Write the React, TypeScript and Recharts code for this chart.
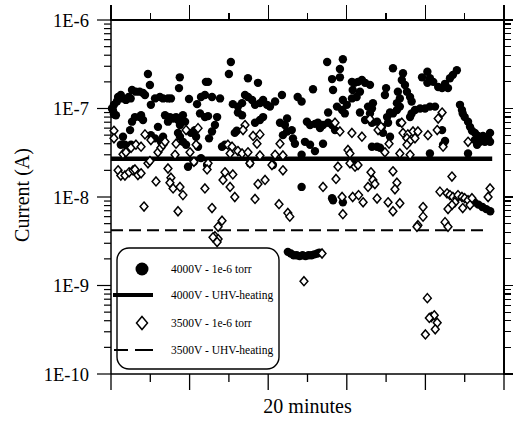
import { ScatterChart, Scatter, XAxis, YAxis, ReferenceLine } from "recharts";

const SERIF = '"Liberation Serif", "Times New Roman", serif';

// x: minutes, y: current (A)
const X_MAJOR = [0, 4, 8, 12, 16, 20];
const X_MINOR = [2, 6, 10, 14, 18];
const Y_DECADES = [1e-10, 1e-9, 1e-8, 1e-7, 1e-6];
const Y_MINOR_STEPS = [2, 3, 4, 5, 6, 7, 8, 9];

const UHV_4000 = 2.7e-8;
const UHV_4000_END = 19.4;
const UHV_3500 = 4.2e-9;
const UHV_3500_END = 18.95;

// 4000V - 1e-6 torr (filled circles)
const HV4000: [number, number][] = [
  [0.05, 1.0e-7], [0.3, 1.2e-7], [0.1, 9.5e-8], [0.6, 1.3e-7], [0.9, 1.35e-7],
  [0.15, 1.1e-7], [0.36, 1.35e-7], [0.5, 1.42e-7], [0.76, 1.25e-7], [1.0, 1.3e-7], [1.07, 1.62e-7],
  [1.27, 1.55e-7], [1.46, 1.55e-7], [1.63, 1.5e-7], [1.73, 1.42e-7], [1.88, 2.45e-7], [1.98, 1.84e-7],
  [2.03, 1.1e-7], [2.24, 1.3e-7], [2.49, 1.35e-7], [2.65, 1.3e-7], [2.9, 1.3e-7], [3.05, 1.3e-7],
  [3.5, 2.25e-7], [3.46, 1.7e-7], [3.97, 1.28e-7], [4.38, 1.12e-7], [4.58, 1.35e-7], [4.83, 2.0e-7],
  [0.15, 8.6e-8], [0.25, 8.4e-8], [1.07, 7.1e-8], [1.22, 8e-8], [1.46, 8e-8], [1.53, 8.4e-8],
  [1.63, 7.4e-8], [0.97, 5.7e-8], [0.61, 4.8e-8], [0.5, 3.9e-8], [0.71, 3.9e-8], [0.87, 3.7e-8],
  [1.02, 3.9e-8], [2.03, 5.0e-8], [2.24, 4.6e-8], [2.39, 6.2e-8], [2.54, 4.2e-8], [2.65, 4.8e-8],
  [2.75, 8.4e-8], [2.9, 7.1e-8], [3.0, 8e-8], [3.16, 7.7e-8], [3.31, 8e-8], [3.41, 7.4e-8],
  [3.51, 6.5e-8], [3.66, 8.4e-8], [3.77, 7.1e-8], [3.41, 5.3e-8], [3.51, 4.8e-8], [3.66, 4.2e-8],
  [3.82, 3.9e-8], [4.07, 5.3e-8], [4.27, 5.7e-8], [4.33, 4.8e-8], [4.53, 8.8e-8], [4.78, 8e-8],
  [4.43, 3.7e-8], [3.92, 2.2e-8], [4.22, 2.5e-8], [4.58, 2.75e-8],
  [6.1, 3.35e-7], [6.0, 2.45e-7], [4.94, 2.0e-7], [6.97, 2.2e-7], [7.48, 1.95e-7], [5.55, 1.3e-7],
  [5.14, 1.35e-7], [4.78, 1.42e-7], [6.2, 1.12e-7], [6.46, 1.05e-7], [6.67, 1.15e-7], [6.82, 1.42e-7],
  [6.97, 1.35e-7], [7.18, 1.25e-7], [7.33, 1.1e-7], [7.58, 1.15e-7], [7.74, 1.25e-7], [7.94, 1.1e-7],
  [8.09, 1.05e-7], [8.35, 1.2e-7], [8.7, 1.42e-7], [9.5, 1.35e-7], [9.7, 1.2e-7], [5.4, 8e-8],
  [4.94, 8.2e-8], [6.46, 9e-8], [6.67, 8.4e-8], [7.33, 6.9e-8], [7.58, 7.4e-8], [7.74, 8e-8],
  [8.96, 7.7e-8], [5.29, 6.5e-8], [5.14, 5.5e-8], [4.99, 4.6e-8], [6.4, 5.6e-8], [6.3, 5.3e-8],
  [8.6, 6.9e-8], [8.85, 6.5e-8], [8.96, 5.5e-8], [8.75, 5.0e-8], [9.2, 5.7e-8], [9.26, 4.6e-8],
  [9.36, 4.0e-8], [5.65, 3.7e-8], [5.8, 3.9e-8], [9.7, 3.0e-8], [7.07, 2.4e-8], [4.89, 2.3e-8],
  [8.24, 2.3e-8], [9.7, 1.3e-8],
  [11.8, 3.6e-7], [11.0, 3.35e-7], [11.65, 2.8e-7], [11.65, 2.25e-7], [11.25, 2.15e-7], [14.35, 2.85e-7],
  [10.28, 1.65e-7], [11.3, 1.62e-7], [12.26, 2.0e-7], [12.4, 1.95e-7], [12.57, 2.0e-7], [12.77, 2.1e-7],
  [12.93, 1.95e-7], [13.18, 1.85e-7], [12.3, 1.62e-7], [12.67, 1.55e-7], [12.26, 1.3e-7], [12.5, 1.35e-7],
  [14.0, 1.7e-7], [13.94, 1.42e-7], [14.6, 1.55e-7], [11.8, 1.25e-7], [12.0, 1.1e-7], [11.5, 1.05e-7],
  [11.76, 9.6e-8], [11.9, 8.8e-8], [11.05, 9e-8], [12.67, 9e-8], [13.08, 1.05e-7], [13.33, 1.15e-7],
  [13.18, 8.8e-8], [13.28, 1.0e-7], [14.2, 9e-8], [14.05, 8e-8], [14.55, 1.15e-7], [14.35, 8.8e-8],
  [9.97, 7.1e-8], [10.13, 6.5e-8], [10.38, 6.7e-8], [10.53, 6.9e-8], [10.79, 6.5e-8], [11.05, 6.9e-8],
  [11.25, 6.5e-8], [11.4, 5.7e-8], [10.64, 6e-8], [12.93, 7.4e-8], [13.28, 6.9e-8], [13.54, 7.1e-8],
  [13.79, 6.2e-8], [13.84, 5.3e-8], [14.2, 4.8e-8], [14.1, 6.9e-8], [9.87, 4.2e-8], [10.13, 3.9e-8],
  [10.79, 4.0e-8], [10.38, 3.3e-8], [13.28, 3.7e-8], [13.54, 3.7e-8], [13.69, 3.6e-8], [12.3, 2.4e-8],
  [11.25, 9.7e-9], [11.3, 9.2e-9], [11.8, 8.7e-9],
  [17.6, 2.7e-7], [17.4, 2.4e-7], [17.25, 2.2e-7], [17.15, 1.7e-7], [17.0, 1.9e-7], [16.85, 1.7e-7],
  [16.65, 1.75e-7], [16.1, 2.6e-7], [15.83, 2.25e-7], [16.23, 2.2e-7], [16.4, 2.0e-7], [16.1, 1.95e-7],
  [14.86, 2.5e-7], [14.8, 2.1e-7], [14.96, 1.84e-7], [15.06, 1.55e-7], [15.22, 1.35e-7], [15.3, 1.2e-7],
  [14.7, 1.3e-7], [14.7, 1.05e-7], [14.55, 9.6e-8], [17.76, 1.1e-7], [17.86, 9.6e-8], [17.9, 8.8e-8],
  [18.0, 8e-8], [18.17, 7.1e-8], [18.27, 6.2e-8], [18.37, 5.6e-8], [18.52, 5.3e-8], [18.68, 4.9e-8],
  [18.93, 4.9e-8], [19.19, 4.6e-8], [19.29, 4.2e-8], [19.03, 4.2e-8], [18.78, 4.2e-8], [18.52, 4.4e-8],
  [18.63, 3.9e-8], [19.29, 5.3e-8], [15.47, 9.6e-8], [15.73, 1.0e-7], [15.98, 1.0e-7], [16.23, 1.05e-7],
  [16.49, 1.05e-7], [15.3, 8.8e-8], [15.22, 8e-8], [14.7, 6.9e-8], [16.85, 5.7e-8], [17.0, 4.3e-8],
  [16.9, 3.9e-8], [16.23, 3.1e-8], [18.17, 3.1e-8],
  [18.5, 8.7e-9], [18.7, 8.2e-9], [18.9, 7.7e-9], [19.1, 7.3e-9], [19.3, 6.9e-9],
  [9.0, 2.4e-9], [9.15, 2.3e-9], [9.3, 2.2e-9], [9.45, 2.2e-9], [9.6, 2.15e-9], [9.75, 2.2e-9],
  [9.9, 2.15e-9], [10.05, 2.2e-9], [10.2, 2.2e-9], [10.35, 2.25e-9], [10.5, 2.3e-9], [10.6, 2.35e-9],
];

// 3500V - 1e-6 torr (open diamonds)
const HV3500: [number, number][] = [
  [0.15, 5.6e-8], [0.15, 4.6e-8], [0.61, 3.05e-8], [0.76, 3.2e-8], [1.02, 3.6e-8], [1.27, 3.9e-8],
  [1.53, 3.7e-8], [1.73, 5.1e-8], [1.88, 2.4e-8], [2.03, 4.4e-8], [2.39, 3.2e-8], [2.54, 3.6e-8],
  [2.65, 3.9e-8], [2.75, 4.2e-8], [3.31, 4.0e-8], [3.26, 3.0e-8], [3.82, 5.7e-8], [4.02, 3.2e-8],
  [4.33, 3.9e-8], [4.43, 6.0e-8], [4.22, 2.5e-8],
  [0.36, 2.0e-8], [0.5, 1.75e-8], [0.71, 1.75e-8], [0.92, 1.9e-8], [1.12, 2.0e-8], [1.22, 2.05e-8],
  [1.37, 1.77e-8], [1.53, 1.85e-8], [1.98, 2.55e-8], [2.29, 1.5e-8], [2.9, 2.1e-8], [3.05, 1.65e-8],
  [3.0, 1.45e-8], [3.16, 1.25e-8], [3.51, 1.3e-8], [3.66, 1.05e-8], [1.68, 7.8e-9], [3.41, 6.9e-9],
  [4.78, 1.25e-8],
  [6.82, 6.5e-8], [6.72, 5.7e-8], [7.23, 4.9e-8], [7.58, 5.1e-8], [7.43, 4.0e-8], [8.6, 4.0e-8],
  [5.95, 3.9e-8], [6.16, 3.7e-8], [6.06, 3.1e-8], [6.46, 3.3e-8], [6.67, 3.1e-8], [6.97, 3.2e-8],
  [7.58, 2.95e-8], [8.35, 3.0e-8], [8.75, 2.95e-8], [4.94, 2.4e-8], [7.07, 2.4e-8], [8.19, 2.3e-8],
  [8.75, 2.0e-8], [4.89, 2.05e-8], [5.8, 1.9e-8], [6.2, 1.8e-8], [5.7, 1.56e-8], [6.06, 1.3e-8],
  [6.3, 1.0e-8], [7.84, 1.56e-8], [7.48, 1.4e-8], [7.33, 9.5e-9], [8.55, 8.3e-9], [5.14, 7.5e-9],
  [9.0, 6.6e-9], [9.1, 6.0e-9], [5.65, 5.4e-9], [5.45, 4.6e-9], [5.29, 3.6e-9], [5.45, 3.35e-9],
  [5.19, 3.5e-9], [5.4, 3.1e-9],
  [11.4, 6.9e-8], [11.65, 5.5e-8], [12.26, 5.3e-8], [12.77, 4.8e-8], [13.18, 7.6e-8], [13.59, 5.7e-8],
  [13.74, 6.2e-8], [14.15, 4.0e-8], [12.06, 3.4e-8], [12.16, 3.1e-8], [13.94, 3.2e-8], [11.55, 2.2e-8],
  [12.16, 2.4e-8], [12.42, 2.2e-8], [12.57, 2.3e-8], [13.23, 1.9e-8], [14.35, 1.95e-8], [11.45, 1.6e-8],
  [10.79, 1.3e-8], [13.33, 1.56e-8], [13.08, 1.3e-8], [13.43, 1.4e-8], [14.55, 1.45e-8], [14.45, 1.22e-8],
  [12.3, 1.0e-8], [12.6, 1.05e-8], [11.76, 1.0e-8], [12.83, 8.7e-9], [13.54, 9.6e-9], [14.1, 8.7e-9],
  [14.35, 6.9e-9], [11.8, 6.4e-9],
  [16.85, 9e-8], [16.65, 7.7e-8], [16.6, 5.7e-8], [16.9, 3.7e-8], [14.8, 6.9e-8], [14.86, 5.3e-8],
  [15.11, 5.1e-8], [15.37, 5.5e-8], [15.62, 5.5e-8], [15.06, 4.6e-8], [15.22, 4.3e-8], [15.47, 4.6e-8],
  [16.13, 5.0e-8], [15.06, 3.9e-8], [14.7, 3.1e-8], [15.22, 3.0e-8], [18.17, 4.2e-8], [14.7, 8.5e-9],
  [17.35, 1.7e-8], [16.74, 1.15e-8], [17.1, 1.1e-8], [17.25, 1.05e-8], [17.4, 1.0e-8], [17.6, 9.7e-9],
  [17.66, 1.05e-8], [17.86, 1.0e-8], [18.0, 9.7e-9], [18.17, 9.2e-9], [18.37, 9.7e-9], [17.5, 8.7e-9],
  [17.35, 8.1e-9], [17.15, 7.3e-9], [17.9, 7.5e-9], [18.27, 8.1e-9], [19.29, 1.25e-8], [19.19, 1.0e-8],
  [15.88, 7.7e-9], [15.88, 6.0e-9], [15.62, 4.8e-9], [15.57, 4.6e-9], [17.0, 5.2e-9], [17.15, 4.6e-9],
  [10.74, 2.3e-9], [9.82, 1.12e-9], [16.1, 7.2e-10], [16.3, 4.4e-10], [16.45, 4.6e-10], [16.2, 4.3e-10],
  [16.6, 3.8e-10], [16.5, 3.2e-10], [16.0, 2.8e-10],
];

const LEGEND_LABELS = [
  "4000V - 1e-6 torr",
  "4000V - UHV-heating",
  "3500V - 1e-6 torr",
  "3500V - UHV-heating",
];

// plot box in page pixels (chart size minus axis widths/heights)
const BOX = { left: 111, right: 504, top: 20, bottom: 374 };

const X_TICKS = [...X_MAJOR, ...X_MINOR].sort((a, b) => a - b);
const Y_TICKS = [
  ...Y_DECADES,
  ...Y_DECADES.slice(0, -1).flatMap((d) => Y_MINOR_STEPS.map((s) => s * d)),
].sort((a, b) => a - b);

const isDecade = (v: number) => Y_DECADES.some((d) => Math.abs(v / d - 1) < 1e-6);

function BottomTick({ x, y, payload }: any) {
  const len = X_MAJOR.includes(payload.value) ? 16 : 8;
  return <line x1={x} x2={x} y1={y} y2={y + len} stroke="#000" strokeWidth={1.3} />;
}

function LeftTick({ x, y, payload }: any) {
  const major = isDecade(payload.value);
  return (
    <g>
      <line x1={x - (major ? 14 : 7)} x2={x} y1={y} y2={y} stroke="#000" strokeWidth={1.2} />
      {major && (
        <text x={x - 22} y={y} dy="0.36em" textAnchor="end" fontFamily={SERIF} fontSize={18.5} fill="#000">
          {`1E${Math.round(Math.log10(payload.value))}`}
        </text>
      )}
    </g>
  );
}

// top and right mirror frame as plain html strips, same tick lists mapped onto the plot box
function MirrorFrame() {
  const xPix = (t: number) => BOX.left + (t / 20) * (BOX.right - BOX.left);
  const yPix = (v: number) => BOX.top + ((-6 - Math.log10(v)) / 4) * (BOX.bottom - BOX.top);
  const bar = (left: number, top: number, width: number, height: number, key: string) => (
    <div
      key={key}
      style={{ position: "absolute", left, top, width, height, background: "#000", zIndex: 5 }}
    />
  );
  return (
    <>
      {bar(BOX.left - 0.75, BOX.top - 0.75, BOX.right - BOX.left + 1.5, 1.5, "top")}
      {bar(BOX.right - 0.75, BOX.top - 0.75, 1.5, BOX.bottom - BOX.top + 1.5, "right")}
      {X_TICKS.map((t) => {
        const len = X_MAJOR.includes(t) ? 15 : 7;
        return bar(xPix(t) - 0.65, BOX.top - len, 1.3, len, `t${t}`);
      })}
      {Y_TICKS.map((v) => {
        const len = isDecade(v) ? 14 : 7;
        return bar(BOX.right, yPix(v) - 0.6, len, 1.2, `r${v}`);
      })}
    </>
  );
}

const Dot = ({ cx, cy }: any) => <circle cx={cx} cy={cy} r={4.2} fill="#000" />;

const Diamond = ({ cx, cy }: any) => (
  <polygon
    points={`${cx},${cy - 4.5} ${cx + 3.9},${cy} ${cx},${cy + 4.5} ${cx - 3.9},${cy}`}
    fill="#fff"
    stroke="#000"
    strokeWidth={1.5}
  />
);

function LegendBox() {
  const tx = 171;
  const rows = [269, 295, 323, 350];
  return (
    <g fontFamily={SERIF} fontSize={11.5} fill="#000">
      <rect x={117} y={248} width={162} height={121} rx={12} fill="#fff" stroke="#000" strokeWidth={1.4} />
      <circle cx={142} cy={rows[0]} r={6.5} fill="#000" />
      <line x1={113} x2={153} y1={rows[1]} y2={rows[1]} stroke="#000" strokeWidth={4} />
      <polygon points="142,316.5 147.5,323 142,329.5 136.5,323" fill="#fff" stroke="#000" strokeWidth={1.5} />
      <line x1={114} x2={128} y1={rows[3]} y2={rows[3]} stroke="#000" strokeWidth={2} />
      <line x1={135} x2={153} y1={rows[3]} y2={rows[3]} stroke="#000" strokeWidth={2} />
      {LEGEND_LABELS.map((l, i) => (
        <text key={l} x={tx} y={rows[i]} dy="0.35em">
          {l}
        </text>
      ))}
    </g>
  );
}

export default function App() {
  const filled = HV4000.map(([x, y]) => ({ x, y }));
  const open = HV3500.map(([x, y]) => ({ x, y }));

  return (
    <div style={{ position: "absolute", left: 0, top: 0, width: 513, height: 428, background: "#fff" }}>
      <ScatterChart width={513} height={428} margin={{ top: 20, right: 9, bottom: 0, left: 0 }}>
        <XAxis
          type="number"
          dataKey="x"
          domain={[0, 20]}
          ticks={X_TICKS}
          interval={0}
          height={54}
          tickSize={0}
          tickMargin={0}
          tick={<BottomTick />}
          axisLine={{ stroke: "#000", strokeWidth: 1.5 }}
        />
        <YAxis
          type="number"
          dataKey="y"
          scale="log"
          domain={[1e-10, 1e-6]}
          ticks={Y_TICKS}
          interval={0}
          width={111}
          tickSize={0}
          tickMargin={0}
          tick={<LeftTick />}
          axisLine={{ stroke: "#000", strokeWidth: 1.5 }}
          allowDataOverflow
        />
        <Scatter data={filled} shape={<Dot />} isAnimationActive={false} />
        <ReferenceLine
          segment={[{ x: 0, y: UHV_4000 }, { x: UHV_4000_END, y: UHV_4000 }]}
          stroke="#000"
          strokeWidth={4.5}
        />
        <ReferenceLine
          segment={[{ x: 0, y: UHV_3500 }, { x: UHV_3500_END, y: UHV_3500 }]}
          stroke="#000"
          strokeWidth={2}
          strokeDasharray="12 6"
        />
        <Scatter data={open} shape={<Diamond />} isAnimationActive={false} />
      </ScatterChart>
      <svg width={513} height={428} style={{ position: "absolute", left: 0, top: 0, pointerEvents: "none" }}>
        <LegendBox />
        <text
          x={22}
          y={195}
          transform="rotate(-90, 22, 195)"
          textAnchor="middle"
          dy="0.35em"
          fontFamily={SERIF}
          fontSize={20}
          fill="#000"
        >
          Current (A)
        </text>
        <text x={307.5} y={413} textAnchor="middle" fontFamily={SERIF} fontSize={20} fill="#000">
          20 minutes
        </text>
      </svg>
      <MirrorFrame />
    </div>
  );
}
